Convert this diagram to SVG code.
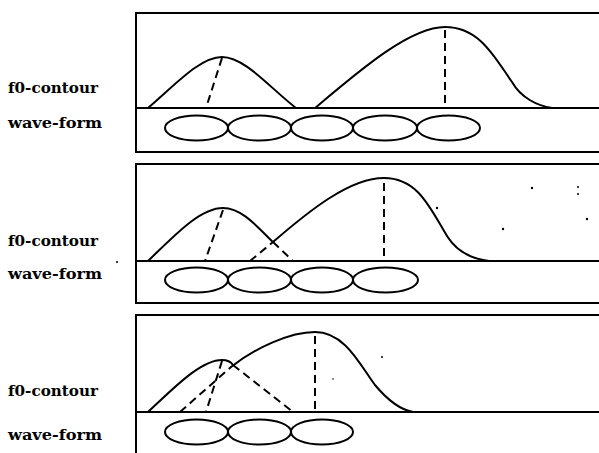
<svg xmlns="http://www.w3.org/2000/svg" width="599" height="453" viewBox="0 0 599 453">
<style>
.frame{fill:none;stroke:#000;stroke-width:2}
.curve{fill:none;stroke:#000;stroke-width:2;stroke-linejoin:round;stroke-linecap:round}
.dash{fill:none;stroke:#000;stroke-width:2;stroke-dasharray:8 5}
.seg{fill:none;stroke:#000;stroke-width:2}
.lbl{font-family:"DejaVu Serif","Liberation Serif",serif;font-weight:bold;font-size:14.5px;fill:#000}
.dot{fill:#000}
</style>
<rect width="599" height="453" fill="#fff"/>

<g id="panel1">
  <path class="frame" d="M602,13 H136 V152 H602"/>
  <line class="frame" x1="136" y1="108" x2="602" y2="108"/>
  <path class="curve" d="M148,108 C175,85 200,57 222,57 C245,57 270,88 296,108"/>
  <path class="curve" d="M315,108 C360,70 410,27 445,27 C480,27 495,58 512,82 C521,98 538,106 552,108"/>
  <line class="dash" x1="222" y1="58" x2="206" y2="108"/>
  <line class="dash" x1="445" y1="30" x2="445" y2="108"/>
  <g class="seg">
    <ellipse cx="196.5" cy="128" rx="31.5" ry="12.5"/>
    <ellipse cx="259.5" cy="128" rx="31.5" ry="12.5"/>
    <ellipse cx="322" cy="128" rx="31" ry="12.5"/>
    <ellipse cx="385" cy="128" rx="32" ry="12.5"/>
    <ellipse cx="448.5" cy="128" rx="31.5" ry="12.5"/>
  </g>
  <text class="lbl" x="8" y="93" textLength="90" lengthAdjust="spacingAndGlyphs">f0-contour</text>
  <text class="lbl" x="8" y="128" textLength="94" lengthAdjust="spacingAndGlyphs">wave-form</text>
</g>

<g id="panel2">
  <path class="frame" d="M602,164 H136 V303 H602"/>
  <line class="frame" x1="136" y1="261" x2="602" y2="261"/>
  <path class="curve" d="M148,261 C175,235 200,208 223,208 C243,208 260,230 273,242"/>
  <line class="dash" x1="273" y1="242" x2="293" y2="261"/>
  <line class="dash" x1="250" y1="261" x2="273" y2="242"/>
  <path class="curve" d="M273,242 C310,210 350,178 384,178 C418,178 430,208 447,236 C457,252 472,259 489,261"/>
  <line class="dash" x1="223" y1="210" x2="205" y2="261"/>
  <line class="dash" x1="384" y1="183" x2="384" y2="261"/>
  <g class="seg">
    <ellipse cx="196.5" cy="280" rx="31.5" ry="12.5"/>
    <ellipse cx="259.5" cy="280" rx="31.5" ry="12.5"/>
    <ellipse cx="322" cy="280" rx="31" ry="12.5"/>
    <ellipse cx="385.5" cy="280" rx="32.5" ry="12.5"/>
  </g>
  <circle class="dot" cx="437" cy="208" r="1.2"/>
  <circle class="dot" cx="532" cy="188" r="1.2"/>
  <circle class="dot" cx="578" cy="187" r="1"/>
  <circle class="dot" cx="578" cy="194" r="1"/>
  <circle class="dot" cx="503" cy="229" r="1.2"/>
  <circle class="dot" cx="587" cy="219" r="1.2"/>
  <circle class="dot" cx="117" cy="262" r="1"/>
  <text class="lbl" x="8" y="246" textLength="90" lengthAdjust="spacingAndGlyphs">f0-contour</text>
  <text class="lbl" x="8" y="279" textLength="94" lengthAdjust="spacingAndGlyphs">wave-form</text>
</g>

<g id="panel3">
  <path class="frame" d="M602,315 H136 V456"/>
  <line class="frame" x1="136" y1="412" x2="602" y2="412"/>
  <path class="curve" d="M148,412 C172,390 200,360 222,360 C227,360 231,362 233,365"/>
  <line class="dash" x1="233" y1="365" x2="293" y2="412"/>
  <line class="dash" x1="180" y1="412" x2="231" y2="367"/>
  <path class="curve" d="M231,367 C255,348 290,332 315,332 C345,332 360,365 375,385 C390,403 402,410 413,412"/>
  <line class="dash" x1="222" y1="361" x2="206" y2="412"/>
  <line class="dash" x1="315" y1="336" x2="315" y2="412"/>
  <g class="seg">
    <ellipse cx="196.5" cy="432" rx="31.5" ry="12.5"/>
    <ellipse cx="259.5" cy="432" rx="31.5" ry="12.5"/>
    <ellipse cx="322" cy="432" rx="31" ry="12.5"/>
  </g>
  <circle class="dot" cx="382" cy="357" r="1"/>
  <circle class="dot" cx="333" cy="379" r="0.8"/>
  <text class="lbl" x="8" y="396" textLength="90" lengthAdjust="spacingAndGlyphs">f0-contour</text>
  <text class="lbl" x="8" y="440" textLength="94" lengthAdjust="spacingAndGlyphs">wave-form</text>
</g>
</svg>
